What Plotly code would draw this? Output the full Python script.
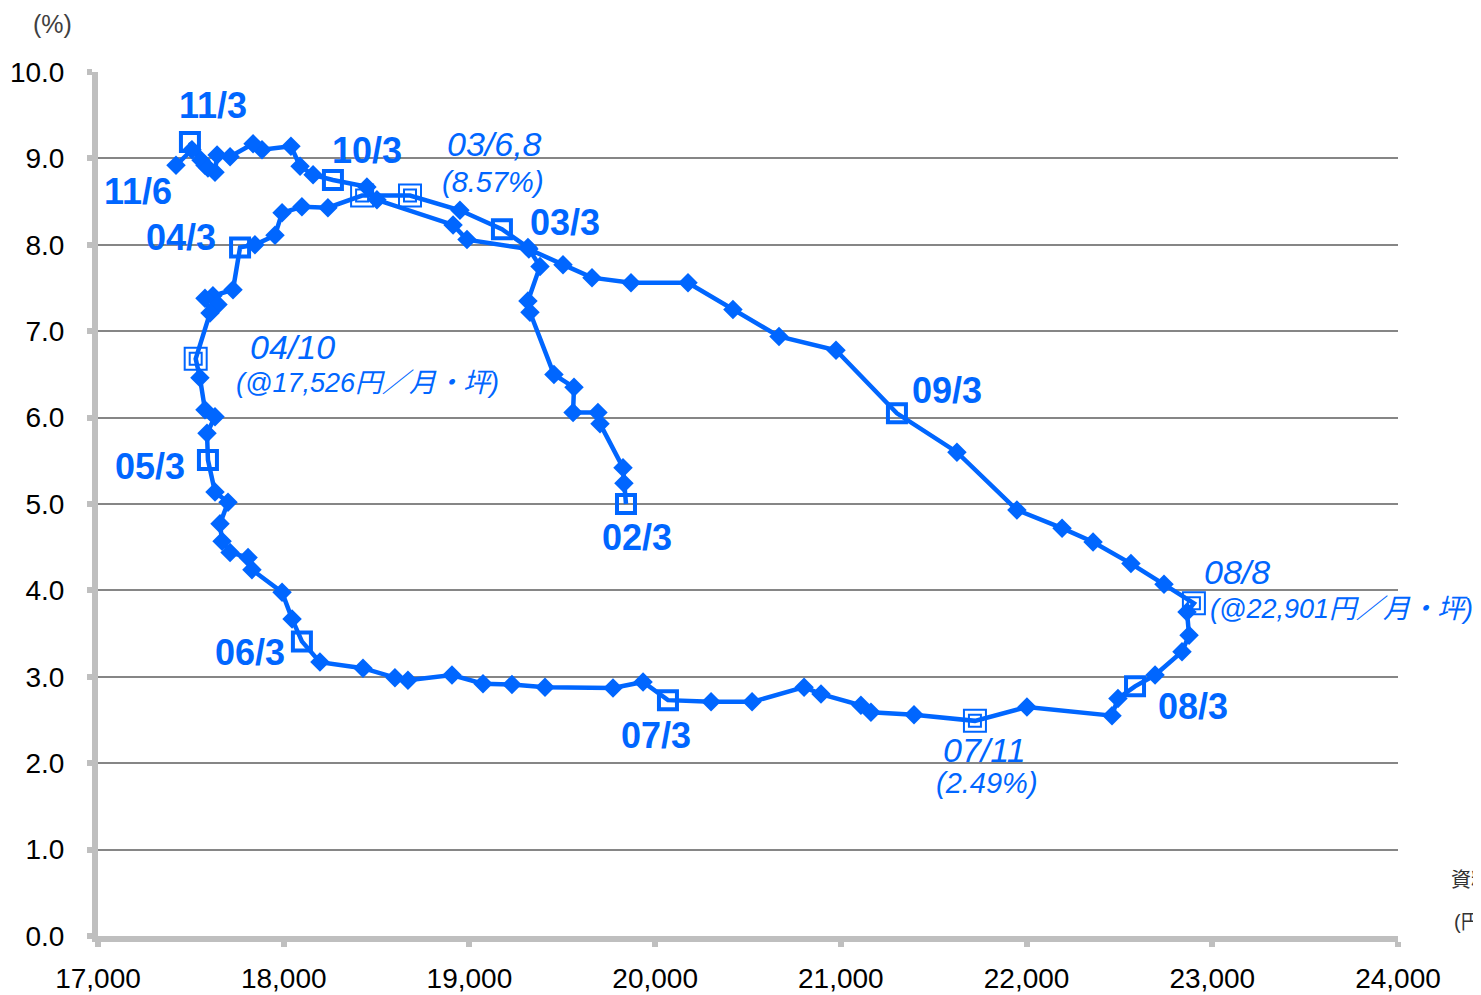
import plotly.graph_objects as go

# ---------------- data ----------------
# average asking rent (円/月・坪) and vacancy rate (%), monthly path 02/3 -> 11/6
rent = [19843, 19832, 19827, 19703, 19692, 19558, 19563, 19455, 19326, 19315,
        19380, 19315, 19175, 18949, 18680, 18422, 18238, 18098, 17991, 17953,
        17845, 17765, 17727, 17619, 17646, 17576, 17603, 17526, 17549, 17576,
        17630, 17587, 17592, 17630, 17700, 17657, 17668, 17711, 17808, 17829,
        17991, 18045, 18098, 18195, 18427, 18599, 18669, 18906, 19073, 19229,
        19407, 19773, 19935, 20069, 20301, 20522, 20802, 20893, 21108, 21162,
        21394, 21722, 22002, 22460, 22492, 22584, 22692, 22837, 22875, 22864,
        22901, 22740, 22562, 22358, 22191, 21948, 21625, 21302, 20974, 20667,
        20419, 20177, 19870, 19660, 19504, 19320, 18987, 18912, 18502, 18448,
        18265, 18158, 18088, 18039, 17883, 17835, 17711, 17641, 17630, 17576,
        17555, 17495, 17592, 17506, 17420]
vacancy = [5.00, 5.24, 5.42, 5.93, 6.06, 6.06, 6.35, 6.50, 7.22, 7.35,
           7.75, 7.97, 8.18, 8.40, 8.57, 8.57, 8.43, 8.44, 8.37, 8.11,
           8.00, 7.97, 7.48, 7.41, 7.31, 7.38, 7.21, 6.68, 6.46, 6.09,
           6.01, 5.82, 5.51, 5.14, 5.02, 4.77, 4.57, 4.44, 4.38, 4.24,
           3.98, 3.67, 3.41, 3.17, 3.10, 2.99, 2.96, 3.02, 2.92, 2.91,
           2.88, 2.87, 2.94, 2.73, 2.71, 2.71, 2.88, 2.80, 2.67, 2.59,
           2.56, 2.49, 2.65, 2.55, 2.75, 2.89, 3.02, 3.29, 3.48, 3.75,
           3.85, 4.07, 4.31, 4.56, 4.72, 4.93, 5.60, 6.05, 6.78, 6.94,
           7.25, 7.56, 7.56, 7.62, 7.77, 7.95, 8.06, 8.23, 8.52, 8.67,
           8.75, 8.81, 8.91, 9.14, 9.10, 9.17, 9.02, 9.04, 8.84, 8.92,
           8.98, 9.19, 8.89, 9.10, 8.92]

# March points (open square) and their labels
march_index = [0, 12, 21, 32, 42, 53, 65, 77, 90, 101]
march_label = ["02/3", "03/3", "04/3", "05/3", "06/3", "07/3", "08/3", "09/3", "10/3", "11/3"]
# latest point
last_index = [104]
last_label = ["11/6"]
# extreme points (double square)
peak_index = [14, 15, 27, 61, 70]
# extreme-point notes: anchor point, first line, second line
note_index = [14, 27, 61, 70]
note_line1 = ["03/6,8", "04/10", "07/11", "08/8"]
note_line2 = ["(8.57%)", "(@17,526円／月・坪)", "(2.49%)", "(@22,901円／月・坪)"]

x_ticks = [17000, 18000, 19000, 20000, 21000, 22000, 23000, 24000]
y_ticks = [0, 1, 2, 3, 4, 5, 6, 7, 8, 9, 10]

# ---------------- styles ----------------
BLUE = "#0066FF"
FONT = "Liberation Sans, Arial, Noto Sans CJK JP, sans-serif"

bold_shift = {"02/3": (11, -33), "03/3": (63, 7), "04/3": (-59, 10), "05/3": (-58, -7),
              "06/3": (-52, -11), "07/3": (-12, -35), "08/3": (58, -20), "09/3": (50, 23),
              "10/3": (34, 30), "11/3": (23, 36), "11/6": (-38, -26)}
note_shift1 = [(84, 52), (97, 12), (10, -29), (43, 31)]
note_shift2 = [(83, 14, "center"), (172, -24, "center"), (12, -62, "center"), (14, -6, "left")]

march_set = set(march_index) | set(peak_index)
diam_idx = [i for i in range(len(rent)) if i not in march_set]

fig = go.Figure()
# connecting line
fig.add_trace(go.Scatter(x=rent, y=vacancy, mode="lines",
                         line=dict(color=BLUE, width=4.5),
                         hoverinfo="skip", cliponaxis=False))
# monthly diamonds
fig.add_trace(go.Scatter(x=[rent[i] for i in diam_idx], y=[vacancy[i] for i in diam_idx],
                         mode="markers",
                         marker=dict(symbol="diamond", size=15, color=BLUE, line=dict(width=0)),
                         hoverinfo="skip", cliponaxis=False))
# March squares
fig.add_trace(go.Scatter(x=[rent[i] for i in march_index], y=[vacancy[i] for i in march_index],
                         mode="markers",
                         marker=dict(symbol="square-open", size=18, color=BLUE,
                                     line=dict(color=BLUE, width=4)),
                         hoverinfo="skip", cliponaxis=False))
# extreme points: double square
for s in (22, 12):
    fig.add_trace(go.Scatter(x=[rent[i] for i in peak_index], y=[vacancy[i] for i in peak_index],
                             mode="markers",
                             marker=dict(symbol="square-open", size=s, color=BLUE,
                                         line=dict(color=BLUE, width=2)),
                             hoverinfo="skip", cliponaxis=False))

ann = []
for i, t in list(zip(march_index, march_label)) + list(zip(last_index, last_label)):
    dx, dy = bold_shift[t]
    ann.append(dict(x=rent[i], y=vacancy[i], xref="x", yref="y", text="<b>%s</b>" % t,
                    showarrow=False, xshift=dx, yshift=dy, xanchor="center", yanchor="middle",
                    font=dict(family=FONT, size=36, color=BLUE)))
for k, i in enumerate(note_index):
    dx, dy = note_shift1[k]
    ann.append(dict(x=rent[i], y=vacancy[i], xref="x", yref="y", text="<i>%s</i>" % note_line1[k],
                    showarrow=False, xshift=dx, yshift=dy, xanchor="center", yanchor="middle",
                    font=dict(family=FONT, size=34, color=BLUE)))
    dx, dy, xa = note_shift2[k]
    ann.append(dict(x=rent[i], y=vacancy[i], xref="x", yref="y", text="<i>%s</i>" % note_line2[k],
                    showarrow=False, xshift=dx, yshift=dy, xanchor=xa, yanchor="middle",
                    font=dict(family=FONT, size=29 if "円" not in note_line2[k] else 27, color=BLUE)))

# The page body has an 8px margin: size the figure so it fits the window and
# place everything in window pixels minus that offset.
OFF = 8
W, H = 1481 - OFF, 995 - OFF
L, T = 98 - OFF, 72 - OFF
R, B = W - (1398 - OFF), H - (936 - OFF)
pw, ph = W - L - R, H - T - B
page_notes = [("(%)", 52, 24, "center", 25, "#404040"),
              ("資料：三鬼商事", 1449, 880, "left", 20, "#333333"),
              ("(円／月・坪)", 1452, 922, "left", 20, "#333333")]
for txt, px, py, xa, fs, col in page_notes:
    ann.append(dict(x=(px - OFF - L) / pw, y=(H - B - (py - OFF)) / ph, xref="paper", yref="paper",
                    text=txt, showarrow=False, xanchor=xa, yanchor="middle",
                    font=dict(family=FONT, size=fs, color=col)))

fig.update_layout(
    width=W, height=H, margin=dict(l=L, r=R, t=T, b=B, autoexpand=False),
    plot_bgcolor="white", paper_bgcolor="white", showlegend=False,
    annotations=ann,
    xaxis=dict(range=[17000, 24000], tickvals=x_ticks, tickformat=",d", automargin=False,
               showgrid=False, zeroline=False, showline=True,
               linecolor="#BFBFBF", linewidth=6, ticks="outside", ticklen=5,
               tickwidth=6, tickcolor="#BFBFBF", ticklabelstandoff=7,
               tickfont=dict(family=FONT, size=28, color="black")),
    yaxis=dict(range=[0, 10], tickvals=y_ticks, tickformat=".1f", automargin=False,
               showgrid=True, gridcolor="#868686", gridwidth=2, zeroline=False,
               showline=True, linecolor="#BFBFBF", linewidth=6, ticks="outside",
               ticklen=5, tickwidth=6, tickcolor="#BFBFBF", ticklabelstandoff=17,
               tickfont=dict(family=FONT, size=28, color="black")),
)

fig.write_html("out.html")
